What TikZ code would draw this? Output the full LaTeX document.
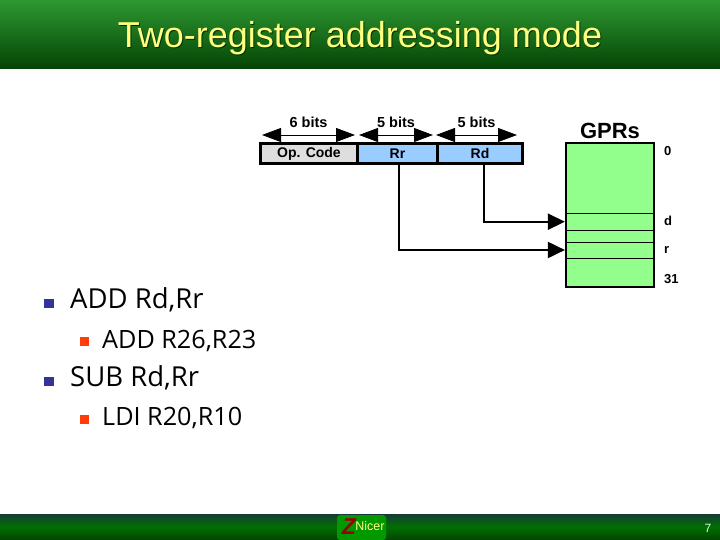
\documentclass[tikz,border=0pt]{standalone}
\usepackage{fontspec}
\setmainfont{Liberation Sans}
\newfontfamily\bodyfont{Open Sans}
\usetikzlibrary{arrows.meta,positioning,fit}
\definecolor{bargreen}{RGB}{46,152,50}
\definecolor{bardark}{RGB}{4,68,4}
\definecolor{footgreen}{RGB}{0,112,0}
\definecolor{footedge}{RGB}{20,60,50}
\definecolor{regblue}{RGB}{153,204,255}
\definecolor{reggreen}{RGB}{146,255,140}
\definecolor{titleyellow}{RGB}{255,255,128}
\definecolor{dotblue}{RGB}{51,51,153}
\definecolor{dotred}{RGB}{255,60,10}

\begin{document}
\begin{tikzpicture}[
	x=1pt,y=-1pt,
	field/.style={draw,line width=2.2pt,minimum height=20pt,inner sep=0pt,font=\fontsize{14}{14}\selectfont\bfseries},
	reg/.style={draw,line width=1pt,fill=reggreen,minimum width=88pt,inner sep=0pt,outer sep=0pt},
	regnum/.style={font=\fontsize{13}{13}\selectfont\bfseries,anchor=west,inner sep=2pt},
	bits/.style={font=\fontsize{14.5}{15}\selectfont\bfseries},
	span/.style={{Triangle[length=19pt,width=14pt]}-{Triangle[length=19pt,width=14pt]},line width=0.8pt,double=white,double distance=1pt},
	link/.style={-{Triangle[length=17pt,width=16pt]},line width=2pt},
	dotmain/.style={fill=dotblue,minimum size=9.5pt,inner sep=0pt},
	dotsub/.style={fill=dotred,minimum size=9pt,inner sep=0pt},
	itemmain/.style={anchor=base west,inner sep=0pt,font=\bodyfont\fontsize{27.5}{28}\selectfont},
	itemsub/.style={anchor=base west,inner sep=0pt,font=\bodyfont\fontsize{25.2}{26}\selectfont}
	]
	\useasboundingbox (0,0) rectangle (720,540);
	
	% Barre
	\shade[top color=bargreen,bottom color=bardark] (0,0) rectangle (720,69);
	\shade[top color=footedge,bottom color=bardark,middle color=footgreen] (0,514) rectangle (720,540);
	\node[font=\fontsize{36}{36}\selectfont,text=bardark!70!black] at (361,39.5) {Two-register addressing mode};
	\node[font=\fontsize{36}{36}\selectfont,text=titleyellow] (title) at (360,38) {Two-register addressing mode};
	
	% Logo
	\node[fill=green!60!black,rounded corners=3pt,minimum width=49pt,minimum height=25pt,inner sep=0pt] (logo) at (361.5,527.5) {};
	\node[font=\fontsize{23}{23}\selectfont\bfseries\itshape,text=red!60!black,inner sep=0pt] (zed) at (349,527) {Z};
	\node[font=\fontsize{12.5}{13}\selectfont,text=titleyellow,inner sep=0pt] (nicer) at (370,526) {Nicer};
	\node[font=\fontsize{12}{12}\selectfont,text=white!85!green] (page) at (708,528) {7};
	
	% Campi
	\node[field,fill=black!13,minimum width=97pt] (opcode) at (309,153.5) {Op. Code};
	\node[field,fill=regblue,minimum width=80pt,right=-2.2pt of opcode] (rr) {Rr};
	\node[field,fill=regblue,minimum width=85pt,right=-2.2pt of rr] (rd) {Rd};
	
	% Ampiezze
	\coordinate (a1) at (262,135);
	\coordinate (a2) at (355,135);
	\coordinate (b1) at (359,135);
	\coordinate (b2) at (433,135);
	\coordinate (c1) at (436,135);
	\coordinate (c2) at (517,135);
	\draw[span] (a1) -- (a2) node[midway,bits,above=4pt] (sixbits) {6 bits};
	\draw[span] (b1) -- (b2) node[midway,bits,above=4pt] (fivebitsa) {5 bits};
	\draw[span] (c1) -- (c2) node[midway,bits,above=4pt] (fivebitsb) {5 bits};
	
	% Registri
	\node[reg,minimum height=70pt] (reg0) at (610,178.3) {};
	\node[reg,minimum height=17pt,below=0pt of reg0] (regd) {};
	\node[reg,minimum height=12pt,line width=1.5pt,below=0pt of regd] (reggap) {};
	\node[reg,minimum height=16pt,below=0pt of reggap] (regr) {};
	\node[reg,minimum height=29pt,below=0pt of regr] (reg31) {};
	\node[draw,line width=2.2pt,inner sep=0pt,fit=(reg0)(reg31)] (gprs) {};
	\node[font=\fontsize{22}{22}\selectfont\bfseries,above=0pt of gprs] (gprstitle) {GPRs};
	\node[regnum] (lab0) at (662,151) {0};
	\node[regnum] (labd) at (662,221) {d};
	\node[regnum] (labr) at (662,250) {r};
	\node[regnum] (lab31) at (662,279) {31};
	
	% Frecce
	\coordinate (rdin) at (gprs.west |- 0,221.7);
	\coordinate (rrin) at (gprs.west |- 0,250);
	\draw[link] ([xshift=4.3pt]rd.south) |- (rdin);
	\draw[link] ([xshift=1pt]rr.south) |- (rrin);
	
	% Testo
	\node[dotmain] (dot1) at (49,303.5) {};
	\node[itemmain] (item1) at (70,308) {ADD Rd,Rr};
	\node[dotsub] (dot2) at (84.5,341.5) {};
	\node[itemsub] (item2) at (102,348) {ADD R26,R23};
	\node[dotmain] (dot3) at (49,381.5) {};
	\node[itemmain] (item3) at (70,386) {SUB Rd,Rr};
	\node[dotsub] (dot4) at (84.5,419.5) {};
	\node[itemsub] (item4) at (102,425) {LDI R20,R10};
\end{tikzpicture}
\end{document}
